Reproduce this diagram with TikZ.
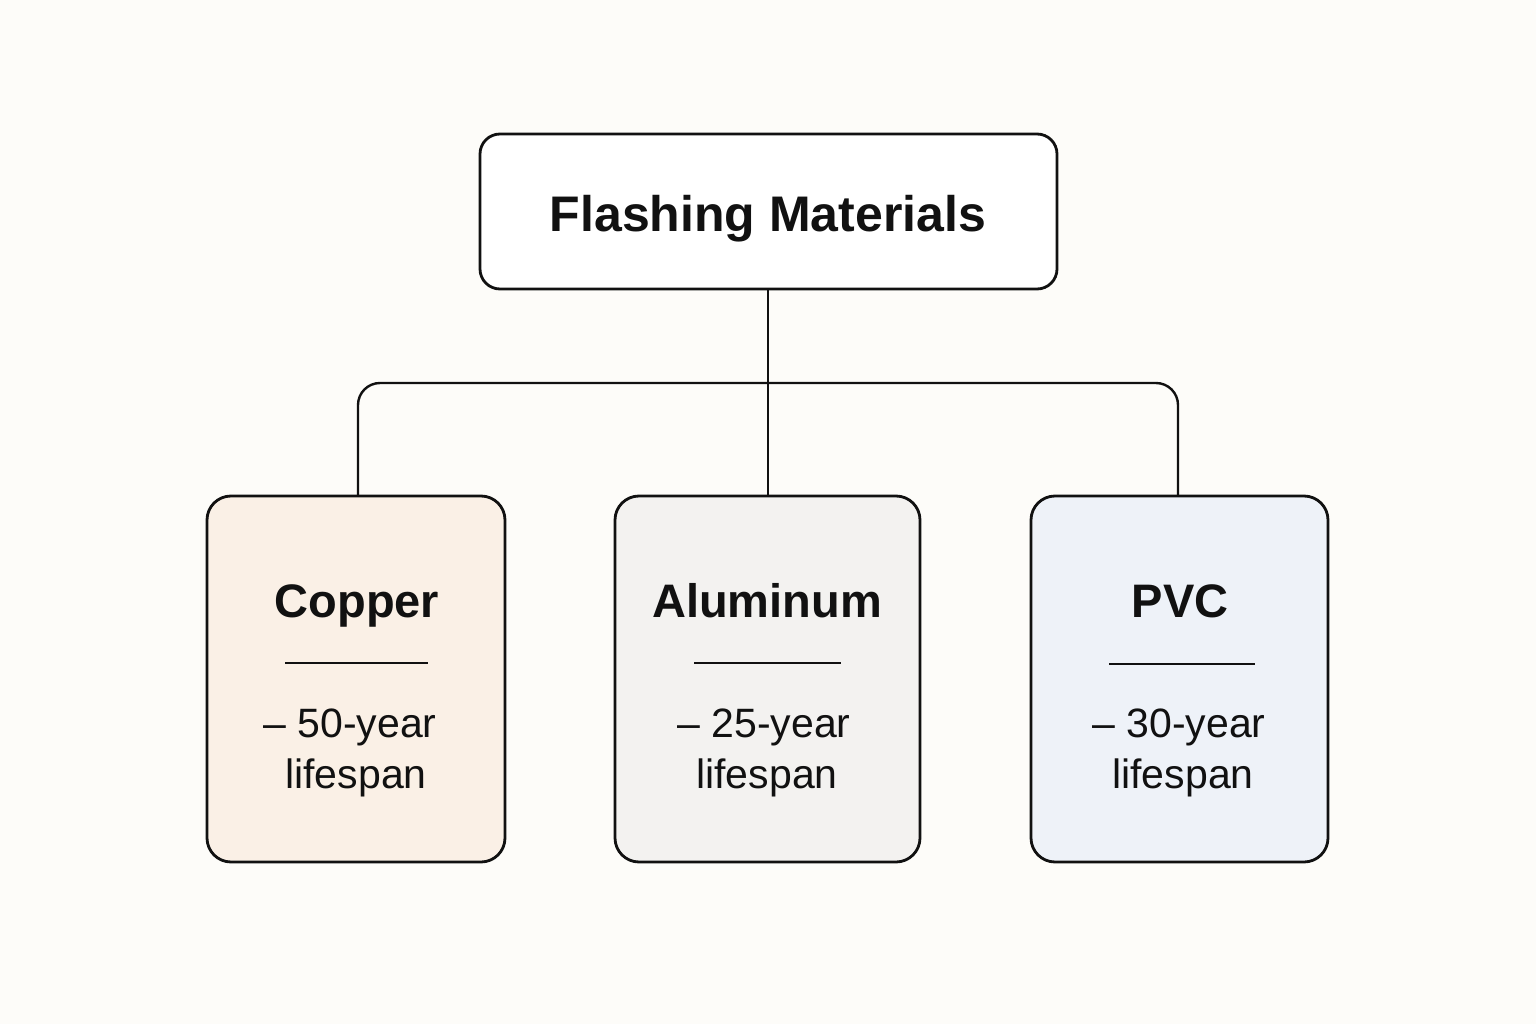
\documentclass[tikz,border=0pt]{standalone}
\usepackage{fontspec}
\setmainfont{Liberation Sans}
\definecolor{bg}{HTML}{FDFCF9}
\definecolor{ink}{HTML}{111111}
\definecolor{copperfill}{HTML}{FAF0E6}
\definecolor{alufill}{HTML}{F3F2F0}
\definecolor{pvcfill}{HTML}{EEF2F8}
\tikzset{
  topbox/.style={draw=ink, line width=2.8pt, rounded corners=20pt, fill=white},
  matbox/.style={draw=ink, line width=2.8pt, rounded corners=24pt},
  conn/.style={draw=ink, line width=2.4pt},
  sep/.style={draw=ink, line width=2.4pt},
  titletext/.style={font=\fontsize{50}{60}\selectfont\bfseries, text=ink, anchor=base, inner sep=0pt},
  mattitle/.style={font=\fontsize{47}{56}\selectfont\bfseries, text=ink, anchor=base, inner sep=0pt},
  bodytext/.style={font=\fontsize{41}{51}\selectfont, text=ink, anchor=base, inner sep=0pt, align=center},
}
\begin{document}
\begin{tikzpicture}[x=1pt,y=-1pt]
\fill[bg] (0,0) rectangle (1536,1024);
\useasboundingbox (0,0) rectangle (1536,1024);
% top box
\draw[topbox] (480,134) rectangle (1057,289);
\coordinate (topB) at (768,289);
\node[titletext] (toptitle) at (768,232) {Flashing Materials};
% material boxes
\draw[matbox, fill=copperfill] (207,496) rectangle (505,862);
\draw[matbox, fill=alufill] (615,496) rectangle (920,862);
\draw[matbox, fill=pvcfill] (1031,496) rectangle (1328,862);
\coordinate (cuT) at (358,496);
\coordinate (alT) at (768,496);
\coordinate (pvT) at (1178,496);
\coordinate (busY) at (768,383);
% connectors
\draw[conn] (topB) -- (alT);
\draw[conn, rounded corners=22pt] (cuT) |- (busY) -| (pvT);
% texts
\node[mattitle] (cu) at (357,617) {Copper};
\node[mattitle] (al) at (767,617) {Aluminum};
\node[mattitle] (pv) at (1180,617) {PVC};
\coordinate (cuS1) at (285,663); \coordinate (cuS2) at (428,663);
\coordinate (alS1) at (694,663); \coordinate (alS2) at (841,663);
\coordinate (pvS1) at (1109,664); \coordinate (pvS2) at (1255,664);
\draw[sep] (cuS1) -- (cuS2);
\draw[sep] (alS1) -- (alS2);
\draw[sep] (pvS1) -- (pvS2);
\node[bodytext] (cub) at (350,737) {– 50-year};
\node[bodytext] (cub2) at (356,788) {lifespan};
\node[bodytext] (alb) at (764,737) {– 25-year};
\node[bodytext] (alb2) at (767,788) {lifespan};
\node[bodytext] (pvb) at (1179,737) {– 30-year};
\node[bodytext] (pvb2) at (1183,788) {lifespan};
\end{tikzpicture}
\end{document}
